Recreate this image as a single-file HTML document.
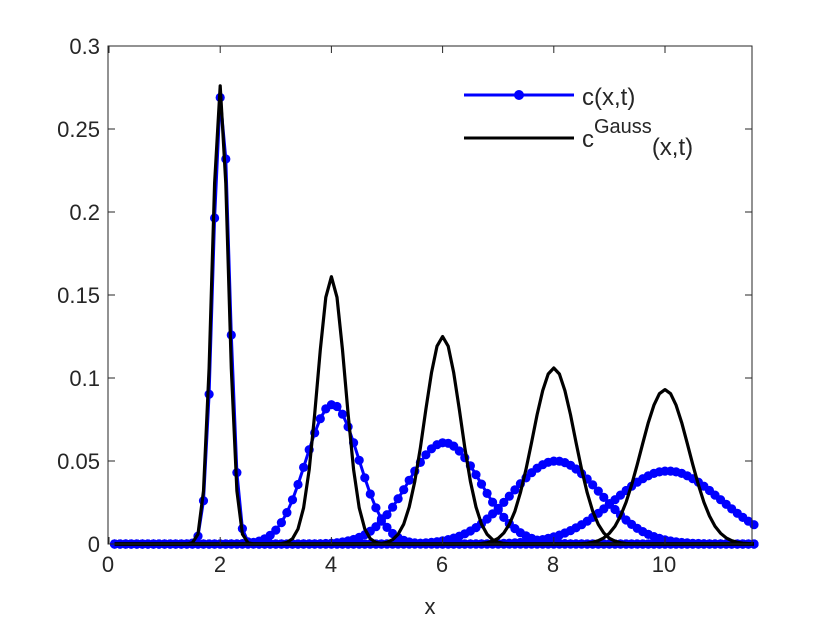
<!DOCTYPE html>
<html><head><meta charset="utf-8"><style>
body{margin:0;background:#fff}
text{font-family:"Liberation Sans",sans-serif;fill:#262626}
</style></head><body>
<svg id="s" width="830" height="622" xmlns="http://www.w3.org/2000/svg">
<rect width="830" height="622" fill="#fff"/>
<g id="data"></g>
<rect x="108" y="46" width="644" height="498" fill="none" stroke="#262626" stroke-width="1"/>
<g id="ticks" stroke="#262626" stroke-width="1"></g>
<g font-size="22" text-anchor="end">
<text x="100" y="552">0</text>
<text x="100" y="469">0.05</text>
<text x="100" y="386">0.1</text>
<text x="100" y="303">0.15</text>
<text x="100" y="220">0.2</text>
<text x="100" y="137">0.25</text>
<text x="100" y="54">0.3</text>
</g>
<g font-size="22" text-anchor="middle">
<text x="108" y="572">0</text>
<text x="220" y="572">2</text>
<text x="331" y="572">4</text>
<text x="442" y="572">6</text>
<text x="553" y="572">8</text>
<text x="664" y="572">10</text>
<text x="430" y="614">x</text>
</g>
<line x1="464" y1="95" x2="574" y2="95" stroke="#0000ff" stroke-width="3"/>
<circle cx="519" cy="95" r="5" fill="#0000ff"/>
<text x="582" y="105" font-size="24">c(x,t)</text>
<line x1="464" y1="138" x2="574" y2="138" stroke="#000" stroke-width="3"/>
<text x="582" y="147" font-size="24">c<tspan font-size="20" dy="-14">Gauss</tspan><tspan dy="22">(x,t)</tspan></text>
</svg>
<script>
var X=function(x){return 109+x*55.6},Y=function(y){return 544-y*1660};
var g=document.getElementById('data'),h='';
var bc=[2.018,4.02,6.03,8.04,10.05],bh=[0.271,0.084,0.061,0.050,0.044],bs=[0.147,0.475,0.654,0.8,0.95];
var kc=[2,4,6,8,10],kh=[0.276,0.161,0.125,0.106,0.093],ks=[0.1445,0.25,0.323,0.382,0.433];
function f(x,c,H,s){return H*Math.exp(-(x-c)*(x-c)/(2*s*s));}
for(var i=0;i<5;i++){var p='',c='';
for(var j=1;j<=116;j++){var x=j*0.1,y=f(x,bc[i],bh[i],bs[i]);
p+=(j==1?'M':'L')+X(x).toFixed(1)+','+Y(y).toFixed(1);
c+='<circle cx="'+X(x).toFixed(1)+'" cy="'+Y(y).toFixed(1)+'" r="4.6" fill="#0000ff"/>';}
h+='<path d="'+p+'" fill="none" stroke="#0000ff" stroke-width="3"/>'+c;}
for(var i=0;i<5;i++){var p='';
for(var j=1;j<=116;j++){var x=j*0.1,y=f(x,kc[i],kh[i],ks[i]);
p+=(j==1?'M':'L')+X(x).toFixed(1)+','+Y(y).toFixed(1);}
h+='<path d="'+p+'" fill="none" stroke="#000" stroke-width="3.2" stroke-linejoin="round"/>';}
g.innerHTML=h;
var t='';
for(var k=0;k<=10;k+=2){var x=X(k);t+='<line x1="'+x+'" y1="544" x2="'+x+'" y2="537"/><line x1="'+x+'" y1="46" x2="'+x+'" y2="53"/>';}
for(var k=0;k<=6;k++){var y=544-k*83;t+='<line x1="108" y1="'+y+'" x2="115" y2="'+y+'"/><line x1="752" y1="'+y+'" x2="745" y2="'+y+'"/>';}
document.getElementById('ticks').innerHTML=t;
</script>
</body></html>
